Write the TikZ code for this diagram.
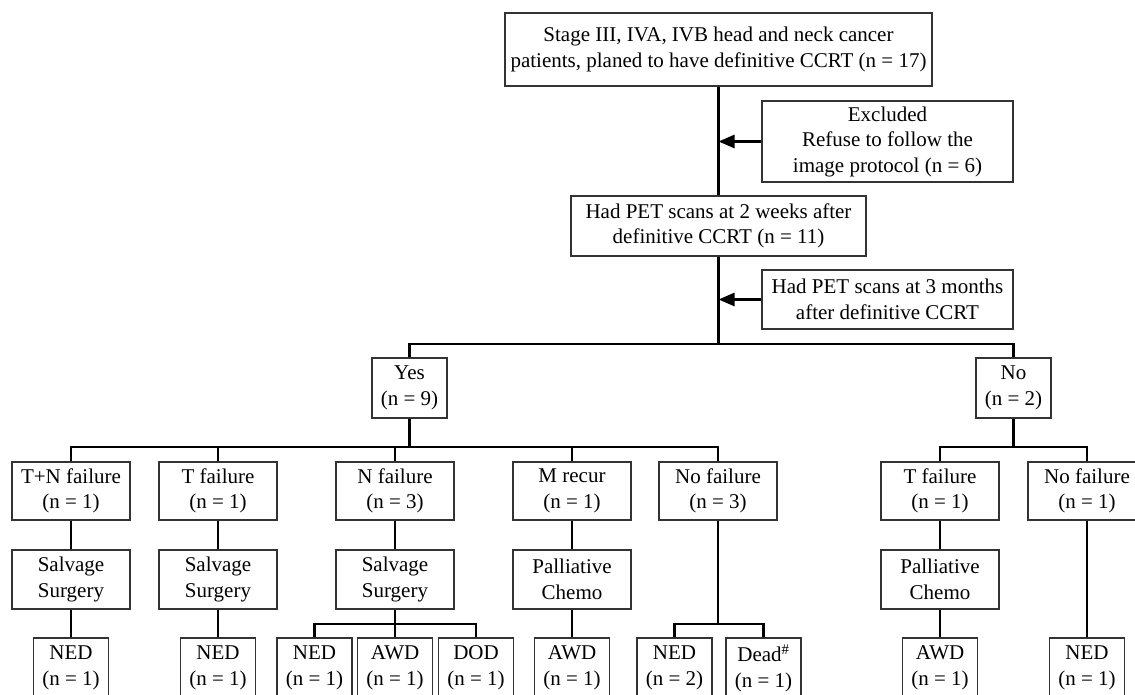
\documentclass[tikz,border=0pt]{standalone}
\usepackage{fontspec}
\setmainfont{Liberation Serif}
\usepackage{tikz}
\usetikzlibrary{arrows.meta,positioning}
\tikzstyle{flowbox} = [rectangle, draw=black!80, line width=1.6pt, inner sep=0pt, align=center, font=\fontsize{21}{25.5}\selectfont]
\tikzstyle{groupbox} = [flowbox, minimum width=118pt, minimum height=58pt]
\tikzstyle{treatbox} = [flowbox, minimum width=118pt, minimum height=59pt]
\tikzstyle{endbox} = [flowbox, minimum width=75pt, minimum height=60pt]
\tikzstyle{link} = [line width=2.6pt]
\tikzstyle{arrow} = [link, -{Triangle[length=16pt,width=13pt]}]

\begin{document}
\begin{tikzpicture}[x=1pt,y=-1pt]
\useasboundingbox (0,0) rectangle (1135,695);
\clip (0,0) rectangle (1135,695);

% enrolment
\node[flowbox, minimum width=427pt, minimum height=73pt] (top) at (718.5,49.5) {Stage III, IVA, IVB head and neck cancer\\patients, planed to have definitive CCRT (n = 17)};
\node[flowbox, minimum width=251pt, minimum height=81pt] (excl) at (887.5,141.5) {Excluded\\Refuse to follow the\\image protocol (n = 6)};
\node[flowbox, minimum width=295pt, minimum height=60pt] (pet2) at (718.5,226) {Had PET scans at 2 weeks after\\definitive CCRT (n = 11)};
\node[flowbox, minimum width=251pt, minimum height=59pt] (pet3) at (887.5,299.5) {Had PET scans at 3 months\\after definitive CCRT};

\node[flowbox, minimum width=75pt, minimum height=60pt] (yes) at (409.5,388) {Yes\\(n = 9)};
\node[flowbox, minimum width=75pt, minimum height=60pt] (no) at (1013.5,388) {No\\(n = 2)};

% failure pattern
\node[groupbox] (tn) at (71,491) {T+N failure\\(n = 1)};
\node[groupbox] (tf) at (218,491) {T failure\\(n = 1)};
\node[groupbox] (nf) at (395,491) {N failure\\(n = 3)};
\node[groupbox] (mr) at (572,491) {M recur\\(n = 1)};
\node[groupbox] (nof) at (718,491) {No failure\\(n = 3)};
\node[groupbox] (tf2) at (940,491) {T failure\\(n = 1)};
\node[groupbox] (nof2) at (1087,491) {No failure\\(n = 1)};

% treatment
\node[treatbox] (ss1) at (71,579.5) {Salvage\\Surgery};
\node[treatbox] (ss2) at (218,579.5) {Salvage\\Surgery};
\node[treatbox] (ss3) at (395,579.5) {Salvage\\Surgery};
\node[treatbox] (pc1) at (572,579.5) {Palliative\\Chemo};
\node[treatbox] (pc2) at (940,579.5) {Palliative\\Chemo};

% outcome
\node[endbox] (ned1) at (71,668) {NED\\(n = 1)};
\node[endbox] (ned2) at (218,668) {NED\\(n = 1)};
\node[endbox] (ned3) at (314.5,668) {NED\\(n = 1)};
\node[endbox] (awd3) at (395,668) {AWD\\(n = 1)};
\node[endbox] (dod3) at (476,668) {DOD\\(n = 1)};
\node[endbox] (awd4) at (572,668) {AWD\\(n = 1)};
\node[endbox] (ned5) at (674.5,668) {NED\\(n = 2)};
\node[endbox] (dead5) at (763.5,668) {Dead\textsuperscript{\#}\\(n = 1)};
\node[endbox] (awd6) at (940,668) {AWD\\(n = 1)};
\node[endbox] (ned7) at (1087,668) {NED\\(n = 1)};

\coordinate (split1) at (718.5,344);
\coordinate (split2) at (409.5,447);
\coordinate (split3) at (1013.5,447);
\coordinate (split4) at (395,624);
\coordinate (split5) at (718,624);

% connectors
\draw[link] (top.south) -- (pet2.north);
\draw[arrow] (excl.west) -- (excl.west -| top.south);
\draw[link] (pet2.south) -- (split1);
\draw[arrow] (pet3.west) -- (pet3.west -| pet2.south);
\draw[link] (yes.north) |- (split1) -| (no.north);

\draw[link] (yes.south) -- (split2);
\draw[link] (tn.north) |- (split2) -| (nof.north);
\foreach \b in {tf,nf,mr}
  \draw[link] (\b.north) -- (\b.north |- split2);
\draw[link] (no.south) -- (split3);
\draw[link] (tf2.north) |- (split3) -| (nof2.north);

\foreach \a/\b in {tn/ss1,tf/ss2,nf/ss3,mr/pc1,tf2/pc2,ss1/ned1,ss2/ned2,pc1/awd4,pc2/awd6,nof2/ned7}
  \draw[link] (\a) -- (\b);
\draw[link] (ss3.south) -- (awd3.north);
\draw[link] (ned3.north) |- (split4) -| (dod3.north);
\draw[link] (nof.south) -- (split5);
\draw[link] (ned5.north) |- (split5) -| (dead5.north);
\end{tikzpicture}
\end{document}
